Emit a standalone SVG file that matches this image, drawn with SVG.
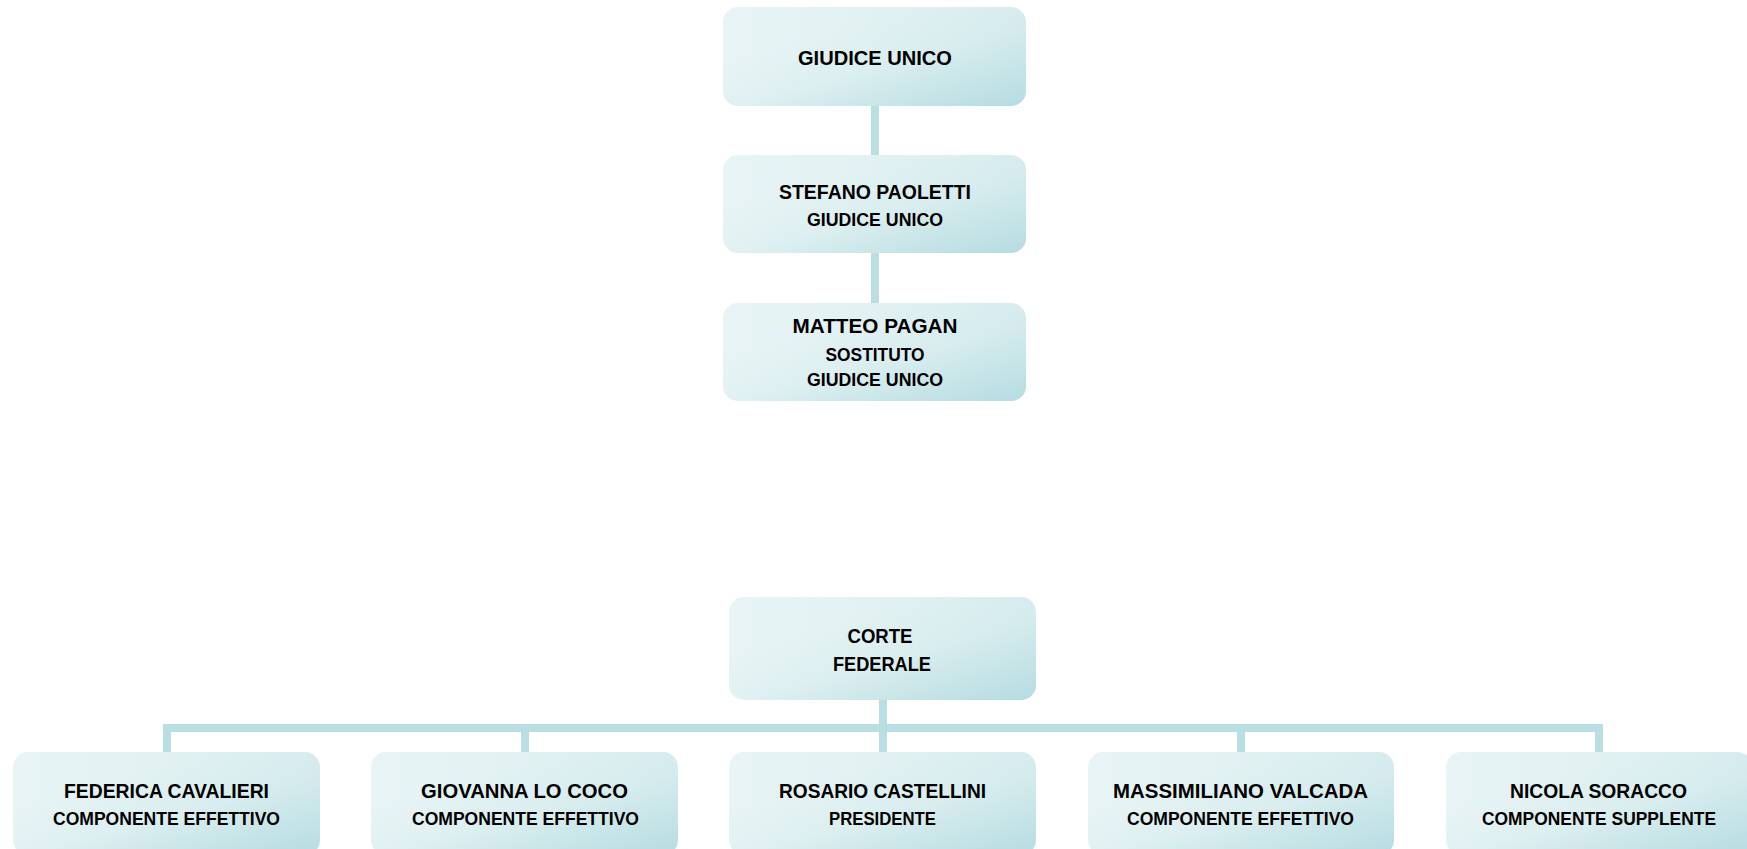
<svg xmlns="http://www.w3.org/2000/svg" width="1747" height="849" viewBox="0 0 1747 849">
<defs>
<linearGradient id="gh" x1="0" y1="0" x2="1" y2="0">
<stop offset="0" stop-color="#e8f4f5"/>
<stop offset="0.5" stop-color="#e1f1f2"/>
<stop offset="1" stop-color="#d9edef"/>
</linearGradient>
<linearGradient id="gv" x1="0.35" y1="0.25" x2="0.95" y2="1">
<stop offset="0" stop-color="#b8dee2" stop-opacity="0"/>
<stop offset="0.4" stop-color="#b8dee2" stop-opacity="0.15"/>
<stop offset="1" stop-color="#b5dce1" stop-opacity="0.95"/>
</linearGradient>
<style>
.b{fill:url(#gh)}
.o{fill:url(#gv)}
.t{font-family:"Liberation Sans",Arial,sans-serif;font-weight:bold;fill:#000;text-anchor:middle}
.n{font-size:21px}
.r{font-size:18px}
.c{stroke:#b9dfe2;stroke-width:8;fill:none}
</style>
</defs>
<rect width="1747" height="849" fill="#fff"/>
<g id="connectors">
<line class="c" x1="875" y1="104" x2="875" y2="157"/>
<line class="c" x1="875" y1="251" x2="875" y2="305"/>
<line class="c" x1="883" y1="698" x2="883" y2="754"/>
<polyline class="c" points="167,754 167,728 1599,728 1599,754"/>
<line class="c" x1="525" y1="728" x2="525" y2="754"/>
<line class="c" x1="1241" y1="728" x2="1241" y2="754"/>
</g>
<g id="giudice-unico">
<rect class="b" x="723" y="7" width="303" height="99" rx="15"/>
<rect class="o" x="723" y="7" width="303" height="99" rx="15"/>
<text class="t n" x="875" y="65" textLength="154" lengthAdjust="spacingAndGlyphs">GIUDICE UNICO</text>
</g>
<g id="paoletti">
<rect class="b" x="723" y="155" width="303" height="98" rx="15"/>
<rect class="o" x="723" y="155" width="303" height="98" rx="15"/>
<text class="t n" x="875" y="199" textLength="192" lengthAdjust="spacingAndGlyphs">STEFANO PAOLETTI</text>
<text class="t r" x="875" y="226" textLength="136" lengthAdjust="spacingAndGlyphs">GIUDICE UNICO</text>
</g>
<g id="pagan">
<rect class="b" x="723" y="303" width="303" height="98" rx="15"/>
<rect class="o" x="723" y="303" width="303" height="98" rx="15"/>
<text class="t n" x="875" y="333" textLength="165" lengthAdjust="spacingAndGlyphs">MATTEO PAGAN</text>
<text class="t r" x="875" y="361" textLength="99" lengthAdjust="spacingAndGlyphs">SOSTITUTO</text>
<text class="t r" x="875" y="386" textLength="136" lengthAdjust="spacingAndGlyphs">GIUDICE UNICO</text>
</g>
<g id="corte-federale">
<rect class="b" x="729" y="597" width="307" height="103" rx="15"/>
<rect class="o" x="729" y="597" width="307" height="103" rx="15"/>
<text class="t n" x="880" y="643" textLength="65" lengthAdjust="spacingAndGlyphs">CORTE</text>
<text class="t n" x="882" y="671" textLength="98" lengthAdjust="spacingAndGlyphs">FEDERALE</text>
</g>
<g id="cavalieri">
<rect class="b" x="13" y="752" width="307" height="103" rx="15"/>
<rect class="o" x="13" y="752" width="307" height="103" rx="15"/>
<text class="t n" x="166.5" y="798" textLength="205" lengthAdjust="spacingAndGlyphs">FEDERICA CAVALIERI</text>
<text class="t r" x="166.5" y="825" textLength="227" lengthAdjust="spacingAndGlyphs">COMPONENTE EFFETTIVO</text>
</g>
<g id="lo-coco">
<rect class="b" x="371" y="752" width="307" height="103" rx="15"/>
<rect class="o" x="371" y="752" width="307" height="103" rx="15"/>
<text class="t n" x="524.5" y="798" textLength="207" lengthAdjust="spacingAndGlyphs">GIOVANNA LO COCO</text>
<text class="t r" x="525.5" y="825" textLength="227" lengthAdjust="spacingAndGlyphs">COMPONENTE EFFETTIVO</text>
</g>
<g id="castellini">
<rect class="b" x="729" y="752" width="307" height="103" rx="15"/>
<rect class="o" x="729" y="752" width="307" height="103" rx="15"/>
<text class="t n" x="882.5" y="798" textLength="207" lengthAdjust="spacingAndGlyphs">ROSARIO CASTELLINI</text>
<text class="t r" x="882.5" y="825" textLength="107" lengthAdjust="spacingAndGlyphs">PRESIDENTE</text>
</g>
<g id="valcada">
<rect class="b" x="1088" y="752" width="306" height="103" rx="15"/>
<rect class="o" x="1088" y="752" width="306" height="103" rx="15"/>
<text class="t n" x="1240.5" y="798" textLength="255" lengthAdjust="spacingAndGlyphs">MASSIMILIANO VALCADA</text>
<text class="t r" x="1240.5" y="825" textLength="227" lengthAdjust="spacingAndGlyphs">COMPONENTE EFFETTIVO</text>
</g>
<g id="soracco">
<rect class="b" x="1446" y="752" width="306" height="103" rx="15"/>
<rect class="o" x="1446" y="752" width="306" height="103" rx="15"/>
<text class="t n" x="1598.5" y="798" textLength="177" lengthAdjust="spacingAndGlyphs">NICOLA SORACCO</text>
<text class="t r" x="1599" y="825" textLength="234" lengthAdjust="spacingAndGlyphs">COMPONENTE SUPPLENTE</text>
</g>
</svg>
